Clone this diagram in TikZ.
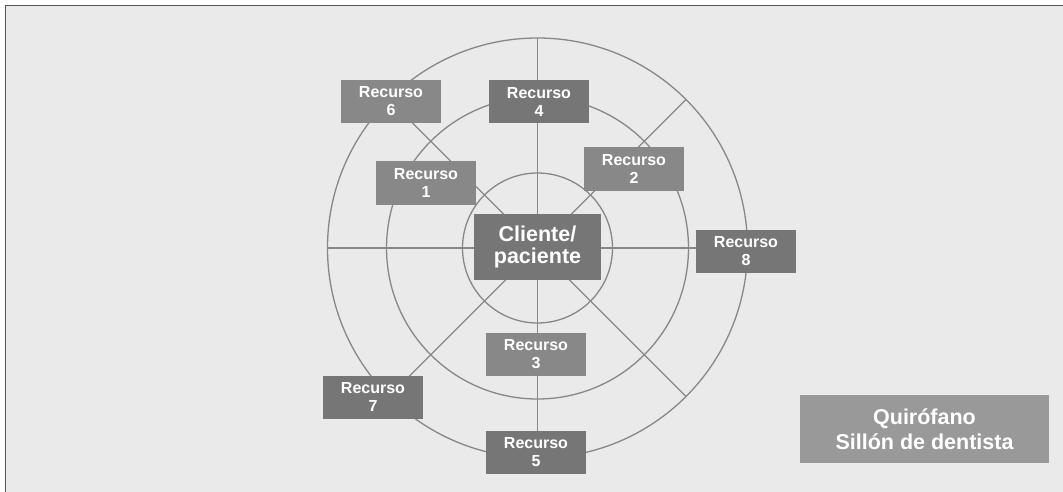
\documentclass[tikz,border=0pt]{standalone}
\usepackage{fontspec}
\setmainfont{Liberation Sans}
\usetikzlibrary{backgrounds}
\definecolor{paper}{HTML}{EAEAEA}
\definecolor{ringgray}{HTML}{878787}
\definecolor{darkbox}{HTML}{767676}
\definecolor{lightbox}{HTML}{888888}
\definecolor{placebox}{HTML}{999999}
\definecolor{framegray}{HTML}{555555}

\begin{document}
\begin{tikzpicture}[
      x=1pt, y=-1pt,
      recbox/.style={
         rectangle,
         fill=#1,
         text=white,
         inner sep=0pt,
         minimum width=100pt,
         minimum height=43pt,
         align=center,
         font=\bfseries\fontsize{16}{18}\selectfont},
      clientbox/.style={
         rectangle,
         fill=darkbox,
         text=white,
         inner sep=0pt,
         minimum width=127pt,
         minimum height=66pt,
         align=center,
         font=\bfseries\fontsize{21.5}{22.5}\selectfont},
      placebox/.style={
         rectangle,
         fill=placebox,
         text=white,
         inner sep=0pt,
         minimum width=249pt,
         minimum height=68pt,
         align=center,
         font=\bfseries\fontsize{21.5}{25}\selectfont},
      ring/.style={draw=ringgray, line width=1.3pt}
      ]
      \useasboundingbox (0,0) rectangle (1063,492);

      \node[clientbox]          at (537.5, 247) (c)  {Cliente/\\paciente};
      \node[recbox=lightbox]    at (391, 101.5) (r6) {Recurso\\6};
      \node[recbox=darkbox]     at (539, 101.5) (r4) {Recurso\\4};
      \node[recbox=lightbox]    at (426, 183)   (r1) {Recurso\\1};
      \node[recbox=lightbox]    at (634, 169)   (r2) {Recurso\\2};
      \node[recbox=darkbox]     at (746, 251.5) (r8) {Recurso\\8};
      \node[recbox=lightbox]    at (536, 354)   (r3) {Recurso\\3};
      \node[recbox=darkbox]     at (373, 397)   (r7) {Recurso\\7};
      \node[recbox=darkbox]     at (536, 452.5) (r5) {Recurso\\5};
      \node[placebox]           at (924.5, 429) (q)  {Quirófano\\Sillón de dentista};

      \coordinate (o) at (537.5, 248);

      \begin{scope}[on background layer]
        \fill[paper] (5.5, 5.5) rectangle (1063, 492);
        \draw[framegray, line width=1.5pt] (5.5, 492) -- (5.5, 5.5) -- (1063, 5.5);
        \foreach \r in {75, 151, 210}
          \draw[ring] (o) circle[radius=\r];
        % spokes out to the outer ring (y runs down, so angles turn clockwise)
        \foreach \a in {0, 45, 90, 135, 180, 270, 315}
          \draw[ring] (o) -- ++(\a:210);
        \draw[ring] (o) -- (r6.center);
      \end{scope}
    \end{tikzpicture}
\end{document}
